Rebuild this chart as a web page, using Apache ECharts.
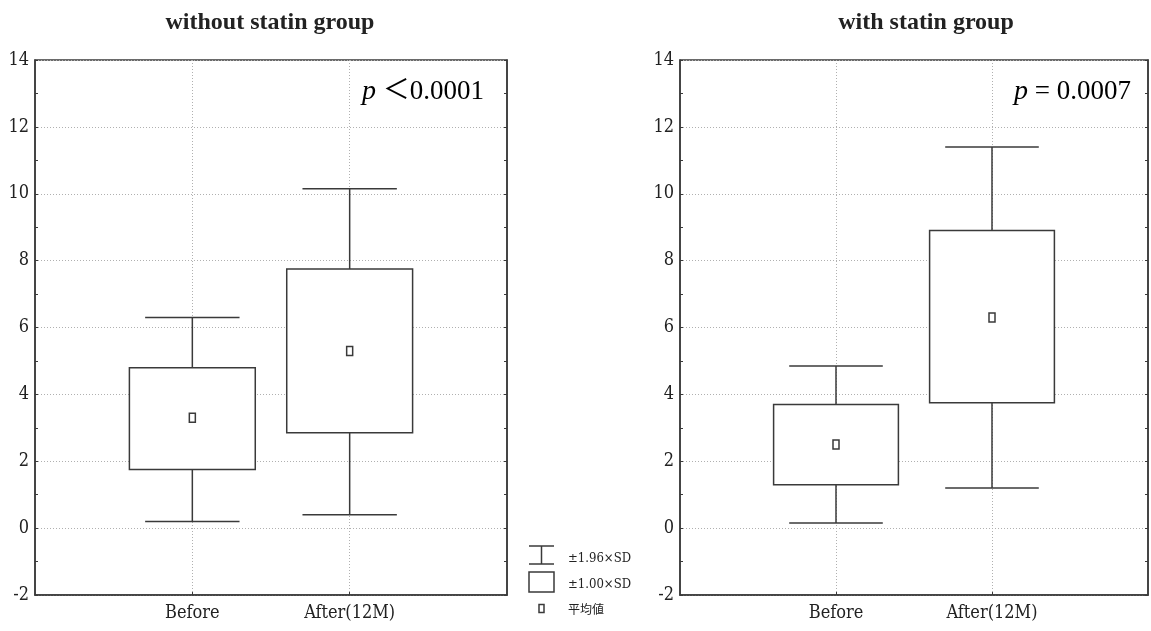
<!DOCTYPE html>
<html>
<head>
<meta charset="utf-8">
<script src="https://cdn.jsdelivr.net/npm/echarts@6/dist/echarts.min.js"></script>
<style>
  html, body { margin: 0; padding: 0; background: #fff; }
  #chart { width: 1151px; height: 631px; }
</style>
</head>
<body>
<div id="chart"></div>
<script>
// ---- data ----
const categories = ['Before', 'After(12M)'];
const titles = ['without statin group', 'with statin group'];
const pLabels = [['p', ' ＜0.0001'], ['p', ' = 0.0007']];
const yMin = -2, yMax = 14, yInterval = 2;

// without statin group: mean ± 1.96 SD (whiskers), mean ± 1.00 SD (box)
const withoutLow  = [0.2, 0.4];
const withoutQ1   = [1.75, 2.85];
const withoutMean = [3.3, 5.3];
const withoutQ3   = [4.8, 7.75];
const withoutHigh = [6.3, 10.15];

// with statin group
const withLow  = [0.15, 1.2];
const withQ1   = [1.3, 3.75];
const withMean = [2.5, 6.3];
const withQ3   = [3.7, 8.9];
const withHigh = [4.85, 11.4];

const legendLabels = ['±1.96×SD', '±1.00×SD', '平均値'];

// ---- build ----
const axisCats = [''].concat(categories).concat(['']);
function rows(low, q1, q3, high, mean) {
  return categories.map((c, i) => [i + 1, low[i], q1[i], q3[i], high[i], mean[i]]);
}
const groupData = [
  rows(withoutLow, withoutQ1, withoutQ3, withoutHigh, withoutMean),
  rows(withLow, withQ1, withQ3, withHigh, withMean)
];

const INK = '#3a3a3a';
const LBL_FONT = "'DejaVu Serif Condensed','Liberation Serif','DejaVu Serif',serif";
const SERIF = "'Liberation Serif','Times New Roman',serif";

function renderBox(params, api) {
  const x = api.value(0);
  const low = api.coord([x, api.value(1)]);
  const q1 = api.coord([x, api.value(2)]);
  const q3 = api.coord([x, api.value(3)]);
  const high = api.coord([x, api.value(4)]);
  const mean = api.coord([x, api.value(5)]);
  const band = api.size([1, 0])[0];
  const boxW = band * 0.8;
  const capW = band * 0.6;
  const cx = q1[0];
  const ls = { stroke: INK, lineWidth: 1.5, fill: null };
  return {
    type: 'group',
    children: [
      { type: 'line', shape: { x1: cx, y1: high[1], x2: cx, y2: q3[1] }, style: ls },
      { type: 'line', shape: { x1: cx, y1: q1[1], x2: cx, y2: low[1] }, style: ls },
      { type: 'line', shape: { x1: cx - capW / 2, y1: high[1], x2: cx + capW / 2, y2: high[1] }, style: ls },
      { type: 'line', shape: { x1: cx - capW / 2, y1: low[1], x2: cx + capW / 2, y2: low[1] }, style: ls },
      { type: 'rect', shape: { x: cx - boxW / 2, y: q3[1], width: boxW, height: q1[1] - q3[1] },
        style: { stroke: INK, lineWidth: 1.5, fill: '#fff' } },
      { type: 'rect', shape: { x: mean[0] - 3, y: mean[1] - 4.5, width: 6, height: 9 },
        style: { stroke: INK, lineWidth: 1.5, fill: '#fff' } }
    ]
  };
}

const grids = [
  { left: 35, right: 644, top: 60, bottom: 36 },
  { left: 680, right: 2, top: 60, bottom: 36 }
];

const xAxes = [], yAxes = [], series = [], titleList = [];
grids.forEach((g, gi) => {
  g.show = true;
  g.borderColor = INK;
  g.borderWidth = 1.5;
  g.backgroundColor = 'transparent';
  xAxes.push({
    type: 'category', gridIndex: gi, data: axisCats, boundaryGap: false,
    axisLine: { show: true, onZero: false, lineStyle: { color: INK, width: 1.5 } },
    axisTick: { show: true, inside: true, length: 3, interval: (i) => i === 1 || i === 2, lineStyle: { color: INK } },
    axisLabel: { show: true, interval: 0, margin: 9, color: '#222', fontSize: 18, fontFamily: LBL_FONT },
    splitLine: { show: true, interval: (i) => i === 1 || i === 2, lineStyle: { color: '#b0b0b0', type: [1, 2], width: 1 } }
  });
  yAxes.push({
    type: 'value', gridIndex: gi, min: yMin, max: yMax, interval: yInterval,
    axisLine: { show: true, onZero: false, lineStyle: { color: INK, width: 1.5 } },
    axisTick: { show: true, inside: true, length: 3, lineStyle: { color: INK } },
    minorTick: { show: true, splitNumber: 2, length: 3, lineStyle: { color: INK } },
    axisLabel: { show: true, margin: 6, color: '#222', fontSize: 18, fontFamily: LBL_FONT },
    splitLine: { show: true, lineStyle: { color: '#b0b0b0', type: [1, 2], width: 1 } }
  });
  yAxes.push({
    type: 'value', gridIndex: gi, min: yMin, max: yMax, interval: yInterval, position: 'right',
    axisLine: { show: true, onZero: false, lineStyle: { color: INK, width: 1.5 } },
    axisTick: { show: true, inside: true, length: 3, lineStyle: { color: INK } },
    minorTick: { show: true, splitNumber: 2, length: 3, lineStyle: { color: INK } },
    axisLabel: { show: false },
    splitLine: { show: false }
  });
  series.push({
    type: 'custom', xAxisIndex: gi, yAxisIndex: gi * 2,
    renderItem: renderBox, data: groupData[gi], z: 5, silent: true,
    encode: { x: 0, y: [1, 2, 3, 4, 5] }
  });
  const centerX = gi === 0 ? 265 : 921;
  titleList.push({
    text: titles[gi], left: centerX, top: 6, textAlign: 'center',
    textStyle: { fontFamily: SERIF, fontWeight: 'bold', fontSize: 24, color: '#222' }
  });
});

const pRich = {
  it: { fontFamily: SERIF, fontStyle: 'italic', fontSize: 28, color: '#222' },
  n: { fontFamily: SERIF + ",'Noto Sans CJK JP'", fontSize: 27, color: '#222' }
};
const graphics = [
  { type: 'text', right: 1151 - 484, top: 78, z: 10,
    style: { text: '{it|' + pLabels[0][0] + '}{n|' + pLabels[0][1] + '}', rich: pRich } },
  { type: 'text', right: 1151 - 1131, top: 78, z: 10,
    style: { text: '{it|' + pLabels[1][0] + '}{n|' + pLabels[1][1] + '}', rich: pRich } },
  // legend icons
  { type: 'line', shape: { x1: 529, y1: 546, x2: 554, y2: 546 }, style: { stroke: INK, lineWidth: 1.5 } },
  { type: 'line', shape: { x1: 541.5, y1: 546, x2: 541.5, y2: 564 }, style: { stroke: INK, lineWidth: 1.5 } },
  { type: 'line', shape: { x1: 529, y1: 564, x2: 554, y2: 564 }, style: { stroke: INK, lineWidth: 1.5 } },
  { type: 'rect', shape: { x: 529, y: 572, width: 25, height: 20 }, style: { stroke: INK, lineWidth: 1.5, fill: '#fff' } },
  { type: 'rect', shape: { x: 539, y: 604.5, width: 5, height: 8 }, style: { stroke: INK, lineWidth: 1.5, fill: '#fff' } },
  { type: 'text', x: 568, y: 559, style: { text: legendLabels[0], fontFamily: LBL_FONT, fontSize: 13, fill: '#222', verticalAlign: 'middle' } },
  { type: 'text', x: 568, y: 585, style: { text: legendLabels[1], fontFamily: LBL_FONT, fontSize: 13, fill: '#222', verticalAlign: 'middle' } },
  { type: 'text', x: 568, y: 609, style: { text: legendLabels[2], fontFamily: "'Noto Sans CJK JP',sans-serif", fontSize: 12, fill: '#222', verticalAlign: 'middle' } }
];

const chart = echarts.init(document.getElementById('chart'));
chart.setOption({
  animation: false,
  backgroundColor: '#fff',
  title: titleList,
  grid: grids,
  xAxis: xAxes,
  yAxis: yAxes,
  series: series,
  graphic: graphics
});
</script>
</body>
</html>
